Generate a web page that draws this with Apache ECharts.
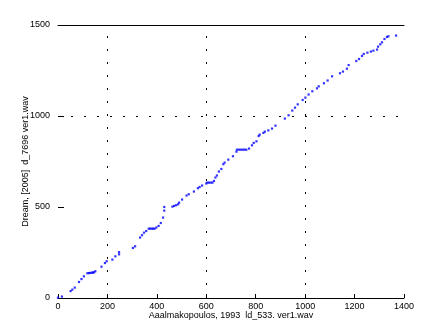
<!DOCTYPE html>
<html><head><meta charset="utf-8">
<script src="https://cdn.jsdelivr.net/npm/echarts@6/dist/echarts.min.js"></script>
<style>html,body{margin:0;padding:0;background:#fff}#c{width:447px;height:335px}</style>
</head><body><div id="c"></div>
<script>
var xTicks = [0, 200, 400, 600, 800, 1000, 1200, 1400];
var yTicks = [0, 500, 1000, 1500];
var gridX = [200, 600, 1000];
var gridY = [1000];
var xLabel = "Aaalmakopoulos, 1993  ld_533. ver1.wav";
var yLabel = "Dream, [2005]  d_7696 ver1.wav";
var xs = [0,16,51,58,68,85,95,105,119,125,131,137,141,146,151,176,190,197,220,232,247,247,303,312,332,340,348,357,367,373,379,385,391,398,407,416,425,430,430,463,470,478,486,490,502,520,529,550,566,573,583,600,604,611,618,625,631,637,643,651,661,669,674,689,708,722,724,732,740,748,755,762,773,785,792,803,812,816,831,837,851,866,880,918,933,948,959,970,990,1001,1014,1029,1048,1055,1076,1091,1109,1141,1153,1169,1176,1207,1218,1230,1237,1252,1266,1276,1291,1295,1304,1311,1321,1331,1337,1368];
var ys = [2,8,38,46,57,88,104,119,136,137,138,139,140,141,147,172,192,202,211,229,240,252,275,284,332,345,359,368,381,381,381,381,381,387,396,412,442,480,500,502,506,510,515,524,541,563,570,585,603,610,618,629,634,634,634,634,643,662,673,695,709,735,744,760,779,804,815,815,815,815,815,815,821,839,852,861,890,898,907,914,921,931,947,986,1004,1030,1046,1064,1088,1101,1118,1136,1152,1163,1180,1195,1218,1235,1244,1260,1280,1302,1313,1330,1341,1348,1354,1359,1365,1381,1394,1405,1423,1434,1438,1442];

var pts = xs.map(function(x, i){ return [x, ys[i]]; });
var font = {fontFamily: 'Liberation Sans', fontSize: 9, color: '#000'};
function plain(v){ return String(v); }
var chart = echarts.init(document.getElementById('c'), null, {renderer: 'canvas'});
chart.setOption({
  animation: false,
  backgroundColor: '#fff',
  grid: {left: 58, right: 43, top: 25, bottom: 37, containLabel: false},
  xAxis: [{
    type: 'value', min: xTicks[0], max: xTicks[xTicks.length-1], interval: 200, position: 'bottom',
    axisLine: {show: true, lineStyle: {color: '#000', width: 1}},
    axisTick: {show: true, inside: true, length: 4, lineStyle: {color: '#000'}},
    axisLabel: Object.assign({margin: 4, formatter: plain}, font),
    splitLine: {show: false},
    name: xLabel, nameLocation: 'middle', nameGap: 13, nameMoveOverlap: false,
    nameTextStyle: font
  }, {
    type: 'value', min: xTicks[0], max: xTicks[xTicks.length-1], interval: 200, position: 'top',
    axisLine: {show: true, lineStyle: {color: '#000', width: 1}},
    axisTick: {show: false}, axisLabel: {show: false}, splitLine: {show: false}
  }],
  yAxis: [{
    type: 'value', min: yTicks[0], max: yTicks[yTicks.length-1], interval: 500,
    axisLine: {show: false},
    axisTick: {show: true, inside: true, length: 6, lineStyle: {color: '#000'}},
    axisLabel: Object.assign({margin: 8, formatter: plain}, font),
    splitLine: {show: false},
    name: yLabel, nameLocation: 'middle', nameGap: 28, nameRotate: 90, nameMoveOverlap: false,
    nameTextStyle: font
  }],
  series: [{
    type: 'scatter', xAxisIndex: 0, yAxisIndex: 0,
    data: pts, symbol: 'rect', symbolSize: 2.2,
    itemStyle: {color: '#0000ff'}, silent: true, z: 5,
    markLine: {
      silent: true, symbol: 'none', label: {show: false},
      lineStyle: {color: '#000', width: 1, type: [2, 11]},
      data: gridX.map(function(v){ return {xAxis: v}; }).concat(gridY.map(function(v){ return {yAxis: v}; }))
    }
  }]
});
</script></body></html>
